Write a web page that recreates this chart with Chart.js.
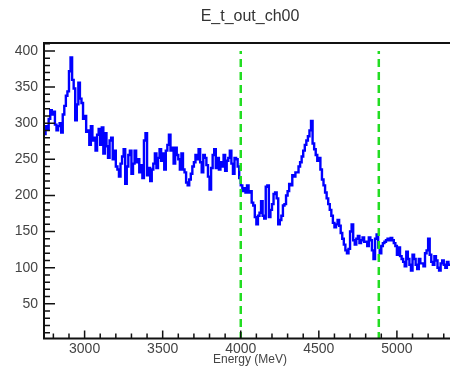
<!DOCTYPE html>
<html>
<head>
<meta charset="UTF-8">
<title>E_t_out_ch00</title>
<script src="https://cdn.jsdelivr.net/npm/chart.js"></script>
<style>
  body { margin: 0; background: #fff; }
  #wrap { position: relative; width: 450px; height: 367px; }
</style>
</head>
<body>
<div id="wrap"><canvas id="histo"></canvas></div>
<script>
// histogram binning (MeV)
var binStart = 2740;
var binWidth = 10;
var counts = [
  285, 296, 292, 306, 318, 312, 316, 298, 290, 296,
  300, 287, 312, 324, 338, 344, 372, 391, 360, 348,
  304, 326, 356, 334, 328, 306, 310, 288, 290, 270,
  296, 276, 280, 262, 284, 292, 270, 294, 258, 286,
  268, 252, 276, 280, 250, 262, 240, 236, 226, 244,
  254, 264, 216, 240, 256, 262, 230, 244, 262, 246,
  250, 232, 242, 224, 276, 286, 228, 238, 220, 236,
  244, 258, 238, 252, 264, 248, 258, 236, 262, 270,
  284, 262, 266, 244, 266, 256, 250, 236, 258, 236,
  232, 218, 214, 222, 230, 240, 246, 256, 250, 264,
  246, 232, 256, 252, 242, 226, 208, 238, 256, 264,
  238, 252, 236, 246, 240, 256, 234, 248, 252, 262,
  244, 230, 252, 250, 240, 224, 214, 206, 210, 204,
  214, 204, 206, 190, 186, 170, 160, 172, 176, 192,
  172, 168, 212, 214, 170, 180, 188, 202, 204, 196,
  160, 166, 172, 186, 188, 200, 206, 216, 214, 228,
  226, 232, 232, 240, 246, 254, 262, 270, 276, 282,
  290, 303, 272, 264, 256, 248, 252, 236, 222, 214,
  204, 196, 188, 180, 172, 162, 156, 160, 166, 158,
  148, 140, 132, 124, 120, 126, 150, 160, 138, 132,
  140, 144, 134, 138, 142, 136, 136, 130, 142, 138,
  124, 112, 140, 146, 128, 120, 130, 134, 136, 138,
  140, 138, 141, 138, 134, 130, 118, 128, 116, 112,
  108, 102, 122, 112, 104, 96, 118, 112, 104, 98,
  112, 106, 106, 102, 120, 124, 140, 118, 108, 104,
  116, 110, 100, 96, 106, 110, 104, 100, 108, 104
];

// cut positions (green dashed lines)
var cutLines = [4000, 4884];
var cutTop = 400;

var xTickLabels = [3000, 3500, 4000, 4500, 5000];
var yTickLabels = [50, 100, 150, 200, 250, 300, 350, 400];

var xMin = 2740, xMax = 5340;
var yMin = 2, yMax = 411;

// bin low edges + closing edge for the step line
var histPoints = counts.map(function (c, i) {
  return { x: binStart + i * binWidth, y: c };
});
histPoints.push({ x: binStart + counts.length * binWidth, y: counts[counts.length - 1] });

var datasets = [];
cutLines.forEach(function (cx) {
  datasets.push({
    data: [{ x: cx, y: 0 }, { x: cx, y: cutTop }],
    borderColor: '#22dd22',
    borderWidth: 2.5,
    borderDash: [8, 5],
    pointRadius: 0,
    order: 0
  });
});
datasets.push({
  data: histPoints,
  borderColor: '#0000ff',
  borderWidth: 2.4,
  stepped: true,
  pointRadius: 0,
  order: 1
});

// ROOT-like frame: axis lines, inward ticks, titles
var frame = {
  id: 'frame',
  afterDraw: function (chart) {
    var ctx = chart.ctx;
    var a = chart.chartArea;
    var xs = chart.scales.x, ys = chart.scales.y;
    ctx.save();
    ctx.strokeStyle = '#111';
    ctx.lineWidth = 1.5;
    ctx.beginPath();
    for (var v = 10; v <= 410; v += 10) {
      var py = ys.getPixelForValue(v);
      var len = v % 50 === 0 ? 11 : 6;
      ctx.moveTo(a.left, py);
      ctx.lineTo(a.left + len, py);
    }
    for (var xv = 2800; xv <= 5300; xv += 100) {
      var px = xs.getPixelForValue(xv);
      var l2 = xv % 500 === 0 ? 8 : 5;
      ctx.moveTo(px, a.bottom);
      ctx.lineTo(px, a.bottom - l2);
    }
    ctx.stroke();

    ctx.lineWidth = 2;
    ctx.strokeStyle = '#111';
    ctx.beginPath();
    ctx.moveTo(a.right, a.top);
    ctx.lineTo(a.left, a.top);
    ctx.lineTo(a.left, a.bottom);
    ctx.lineTo(a.right, a.bottom);
    ctx.stroke();

    ctx.fillStyle = '#333';
    ctx.textAlign = 'center';
    ctx.textBaseline = 'middle';
    ctx.font = '16px "Liberation Sans", Arial, sans-serif';
    ctx.fillText('E_t_out_ch00', 250, 17);
    ctx.fillStyle = '#444';
    ctx.font = '12px "Liberation Sans", Arial, sans-serif';
    ctx.fillText('Energy (MeV)', 250, 360);
    ctx.restore();
  }
};

var tickFont = { family: '"Liberation Sans", Arial, sans-serif', size: 14 };

new Chart(document.getElementById('histo'), {
  type: 'line',
  data: { datasets: datasets },
  options: {
    responsive: true,
    maintainAspectRatio: false,
    animation: false,
    layout: { padding: { top: 43, right: 0, bottom: 0, left: 0 } },
    plugins: { legend: { display: false }, tooltip: { enabled: false } },
    scales: {
      x: {
        type: 'linear',
        min: xMin, max: xMax,
        grid: { display: false, drawTicks: false },
        border: { display: false },
        afterBuildTicks: function (s) {
          s.ticks = xTickLabels.map(function (v) { return { value: v }; });
        },
        afterFit: function (s) { s.height = 28.5; },
        ticks: {
          padding: 2, color: '#444', font: tickFont, maxRotation: 0,
          callback: function (v) { return String(v); }
        }
      },
      y: {
        min: yMin, max: yMax,
        grid: { display: false, drawTicks: false },
        border: { display: false },
        afterBuildTicks: function (s) {
          s.ticks = yTickLabels.map(function (v) { return { value: v }; });
        },
        afterFit: function (s) { s.width = 44; },
        ticks: {
          padding: 6, color: '#444', font: tickFont,
          callback: function (v) { return String(v); }
        }
      }
    }
  },
  plugins: [frame]
});
</script>
</body>
</html>
